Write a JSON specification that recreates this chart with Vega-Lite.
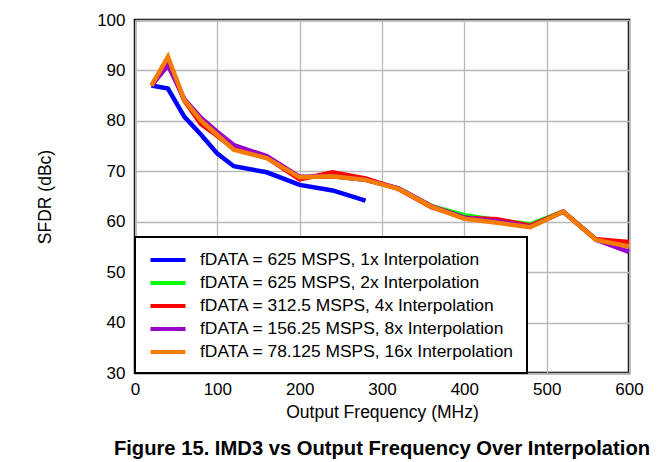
{
  "$schema": "https://vega.github.io/schema/vega-lite/v6.json",
  "autosize": "none",
  "padding": {"left": 135, "top": 20, "right": 40, "bottom": 89},
  "width": 494,
  "height": 353,
  "background": "white",
  "title": {"text": "Figure 15. IMD3 vs Output Frequency Over Interpolation", "orient": "bottom", "font": "Liberation Sans", "fontSize": 20.2, "fontWeight": "bold", "color": "black", "offset": 18, "anchor": "middle"},
  "data": {"values": [
    {"f": 20, "v": 87.0, "s": "fDATA = 625 MSPS, 1x Interpolation"},
    {"f": 40, "v": 86.4, "s": "fDATA = 625 MSPS, 1x Interpolation"},
    {"f": 60, "v": 80.8, "s": "fDATA = 625 MSPS, 1x Interpolation"},
    {"f": 80, "v": 77.3, "s": "fDATA = 625 MSPS, 1x Interpolation"},
    {"f": 100, "v": 73.5, "s": "fDATA = 625 MSPS, 1x Interpolation"},
    {"f": 120, "v": 71.0, "s": "fDATA = 625 MSPS, 1x Interpolation"},
    {"f": 160, "v": 69.8, "s": "fDATA = 625 MSPS, 1x Interpolation"},
    {"f": 200, "v": 67.3, "s": "fDATA = 625 MSPS, 1x Interpolation"},
    {"f": 240, "v": 66.2, "s": "fDATA = 625 MSPS, 1x Interpolation"},
    {"f": 280, "v": 64.2, "s": "fDATA = 625 MSPS, 1x Interpolation"},

    {"f": 20, "v": 87.0, "s": "fDATA = 625 MSPS, 2x Interpolation"},
    {"f": 40, "v": 92.0, "s": "fDATA = 625 MSPS, 2x Interpolation"},
    {"f": 60, "v": 84.0, "s": "fDATA = 625 MSPS, 2x Interpolation"},
    {"f": 80, "v": 80.0, "s": "fDATA = 625 MSPS, 2x Interpolation"},
    {"f": 100, "v": 77.3, "s": "fDATA = 625 MSPS, 2x Interpolation"},
    {"f": 120, "v": 74.5, "s": "fDATA = 625 MSPS, 2x Interpolation"},
    {"f": 160, "v": 72.7, "s": "fDATA = 625 MSPS, 2x Interpolation"},
    {"f": 200, "v": 68.8, "s": "fDATA = 625 MSPS, 2x Interpolation"},
    {"f": 240, "v": 69.0, "s": "fDATA = 625 MSPS, 2x Interpolation"},
    {"f": 280, "v": 68.3, "s": "fDATA = 625 MSPS, 2x Interpolation"},
    {"f": 320, "v": 66.6, "s": "fDATA = 625 MSPS, 2x Interpolation"},
    {"f": 360, "v": 63.1, "s": "fDATA = 625 MSPS, 2x Interpolation"},
    {"f": 400, "v": 61.3, "s": "fDATA = 625 MSPS, 2x Interpolation"},
    {"f": 440, "v": 60.3, "s": "fDATA = 625 MSPS, 2x Interpolation"},
    {"f": 480, "v": 59.5, "s": "fDATA = 625 MSPS, 2x Interpolation"},
    {"f": 520, "v": 62.0, "s": "fDATA = 625 MSPS, 2x Interpolation"},
    {"f": 560, "v": 56.5, "s": "fDATA = 625 MSPS, 2x Interpolation"},
    {"f": 600, "v": 55.5, "s": "fDATA = 625 MSPS, 2x Interpolation"},

    {"f": 20, "v": 87.0, "s": "fDATA = 312.5 MSPS, 4x Interpolation"},
    {"f": 40, "v": 92.0, "s": "fDATA = 312.5 MSPS, 4x Interpolation"},
    {"f": 60, "v": 84.0, "s": "fDATA = 312.5 MSPS, 4x Interpolation"},
    {"f": 80, "v": 79.4, "s": "fDATA = 312.5 MSPS, 4x Interpolation"},
    {"f": 100, "v": 77.0, "s": "fDATA = 312.5 MSPS, 4x Interpolation"},
    {"f": 120, "v": 74.5, "s": "fDATA = 312.5 MSPS, 4x Interpolation"},
    {"f": 160, "v": 72.7, "s": "fDATA = 312.5 MSPS, 4x Interpolation"},
    {"f": 200, "v": 68.4, "s": "fDATA = 312.5 MSPS, 4x Interpolation"},
    {"f": 240, "v": 69.8, "s": "fDATA = 312.5 MSPS, 4x Interpolation"},
    {"f": 280, "v": 68.6, "s": "fDATA = 312.5 MSPS, 4x Interpolation"},
    {"f": 320, "v": 66.5, "s": "fDATA = 312.5 MSPS, 4x Interpolation"},
    {"f": 360, "v": 62.9, "s": "fDATA = 312.5 MSPS, 4x Interpolation"},
    {"f": 400, "v": 60.8, "s": "fDATA = 312.5 MSPS, 4x Interpolation"},
    {"f": 440, "v": 60.5, "s": "fDATA = 312.5 MSPS, 4x Interpolation"},
    {"f": 480, "v": 59.2, "s": "fDATA = 312.5 MSPS, 4x Interpolation"},
    {"f": 520, "v": 62.0, "s": "fDATA = 312.5 MSPS, 4x Interpolation"},
    {"f": 560, "v": 56.5, "s": "fDATA = 312.5 MSPS, 4x Interpolation"},
    {"f": 600, "v": 56.0, "s": "fDATA = 312.5 MSPS, 4x Interpolation"},

    {"f": 20, "v": 87.0, "s": "fDATA = 156.25 MSPS, 8x Interpolation"},
    {"f": 40, "v": 91.0, "s": "fDATA = 156.25 MSPS, 8x Interpolation"},
    {"f": 60, "v": 84.3, "s": "fDATA = 156.25 MSPS, 8x Interpolation"},
    {"f": 80, "v": 80.6, "s": "fDATA = 156.25 MSPS, 8x Interpolation"},
    {"f": 100, "v": 77.8, "s": "fDATA = 156.25 MSPS, 8x Interpolation"},
    {"f": 120, "v": 75.2, "s": "fDATA = 156.25 MSPS, 8x Interpolation"},
    {"f": 160, "v": 73.0, "s": "fDATA = 156.25 MSPS, 8x Interpolation"},
    {"f": 200, "v": 68.9, "s": "fDATA = 156.25 MSPS, 8x Interpolation"},
    {"f": 240, "v": 69.0, "s": "fDATA = 156.25 MSPS, 8x Interpolation"},
    {"f": 280, "v": 68.3, "s": "fDATA = 156.25 MSPS, 8x Interpolation"},
    {"f": 320, "v": 66.6, "s": "fDATA = 156.25 MSPS, 8x Interpolation"},
    {"f": 360, "v": 63.1, "s": "fDATA = 156.25 MSPS, 8x Interpolation"},
    {"f": 400, "v": 60.8, "s": "fDATA = 156.25 MSPS, 8x Interpolation"},
    {"f": 440, "v": 60.1, "s": "fDATA = 156.25 MSPS, 8x Interpolation"},
    {"f": 480, "v": 59.0, "s": "fDATA = 156.25 MSPS, 8x Interpolation"},
    {"f": 520, "v": 62.0, "s": "fDATA = 156.25 MSPS, 8x Interpolation"},
    {"f": 560, "v": 56.4, "s": "fDATA = 156.25 MSPS, 8x Interpolation"},
    {"f": 600, "v": 54.0, "s": "fDATA = 156.25 MSPS, 8x Interpolation"},

    {"f": 20, "v": 87.0, "s": "fDATA = 78.125 MSPS, 16x Interpolation"},
    {"f": 40, "v": 92.7, "s": "fDATA = 78.125 MSPS, 16x Interpolation"},
    {"f": 60, "v": 84.1, "s": "fDATA = 78.125 MSPS, 16x Interpolation"},
    {"f": 80, "v": 80.1, "s": "fDATA = 78.125 MSPS, 16x Interpolation"},
    {"f": 100, "v": 77.2, "s": "fDATA = 78.125 MSPS, 16x Interpolation"},
    {"f": 120, "v": 74.3, "s": "fDATA = 78.125 MSPS, 16x Interpolation"},
    {"f": 160, "v": 72.6, "s": "fDATA = 78.125 MSPS, 16x Interpolation"},
    {"f": 200, "v": 68.8, "s": "fDATA = 78.125 MSPS, 16x Interpolation"},
    {"f": 240, "v": 69.0, "s": "fDATA = 78.125 MSPS, 16x Interpolation"},
    {"f": 280, "v": 68.3, "s": "fDATA = 78.125 MSPS, 16x Interpolation"},
    {"f": 320, "v": 66.5, "s": "fDATA = 78.125 MSPS, 16x Interpolation"},
    {"f": 360, "v": 63.0, "s": "fDATA = 78.125 MSPS, 16x Interpolation"},
    {"f": 400, "v": 60.6, "s": "fDATA = 78.125 MSPS, 16x Interpolation"},
    {"f": 440, "v": 59.8, "s": "fDATA = 78.125 MSPS, 16x Interpolation"},
    {"f": 480, "v": 58.9, "s": "fDATA = 78.125 MSPS, 16x Interpolation"},
    {"f": 520, "v": 62.0, "s": "fDATA = 78.125 MSPS, 16x Interpolation"},
    {"f": 560, "v": 56.4, "s": "fDATA = 78.125 MSPS, 16x Interpolation"},
    {"f": 600, "v": 55.1, "s": "fDATA = 78.125 MSPS, 16x Interpolation"}
  ]},
  "mark": {"type": "line", "strokeWidth": 4.5, "strokeJoin": "miter", "strokeCap": "butt"},
  "encoding": {
    "x": {"field": "f", "type": "quantitative", "title": "Output Frequency (MHz)",
      "scale": {"domain": [0, 600], "nice": false},
      "axis": {"values": [0, 100, 200, 300, 400, 500, 600], "labelPadding": 8, "titlePadding": 6, "labelFlush": false}},
    "y": {"field": "v", "type": "quantitative", "title": "SFDR (dBc)",
      "scale": {"domain": [30, 100], "nice": false, "zero": false},
      "axis": {"values": [30, 40, 50, 60, 70, 80, 90, 100], "labelPadding": 10, "titlePadding": 42, "labelFlush": false}},
    "color": {"field": "s", "type": "nominal", "title": null,
      "scale": {
        "domain": ["fDATA = 625 MSPS, 1x Interpolation", "fDATA = 625 MSPS, 2x Interpolation", "fDATA = 312.5 MSPS, 4x Interpolation", "fDATA = 156.25 MSPS, 8x Interpolation", "fDATA = 78.125 MSPS, 16x Interpolation"],
        "range": ["#0000ff", "#00ff00", "#ff0000", "#9900cc", "#f57c00"]},
      "legend": {"orient": "bottom-left", "offset": 0, "symbolType": "M-2,0H2", "symbolSize": 306, "symbolStrokeWidth": 4, "symbolOffset": 10, "labelOffset": 21, "padding": 12, "rowPadding": 3, "strokeColor": "black", "fillColor": "white", "labelFont": "Liberation Sans", "labelFontSize": 17.4, "labelColor": "black", "labelLimit": 0}}
  },
  "config": {
    "view": {"stroke": "black", "strokeWidth": 2.5},
    "axis": {"grid": true, "gridColor": "#b8b8b8", "gridWidth": 1.3, "domain": false, "ticks": false,
      "labelFont": "Liberation Sans", "labelFontSize": 17, "labelColor": "black",
      "titleFont": "Liberation Sans", "titleFontSize": 17.5, "titleFontWeight": "normal", "titleColor": "black"},
    "legend": {"strokeWidth": 2}
  }
}
